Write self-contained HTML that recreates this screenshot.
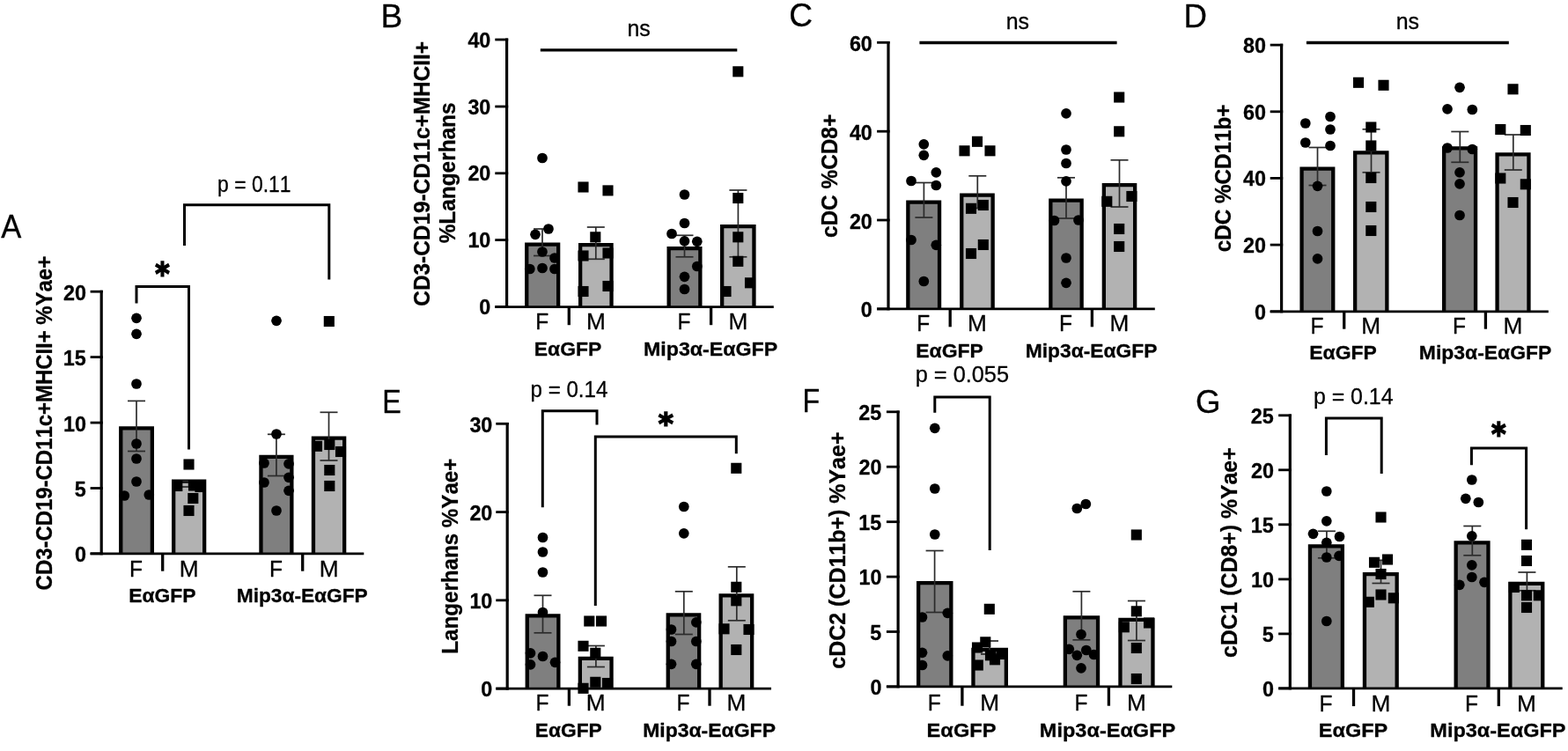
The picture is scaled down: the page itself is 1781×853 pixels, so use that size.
<!DOCTYPE html>
<html lang="en">
<head>
<meta charset="utf-8">
<title>Figure: dendritic cell subsets in EαGFP and Mip3α-EαGFP mice</title>
<style>
html,body{margin:0;padding:0;background:#fff;}
body{width:1781px;height:853px;overflow:hidden;}
svg{display:block;font-family:"Liberation Sans",Arial,Helvetica,sans-serif;fill:#000;font-kerning:none;}
text{stroke:#000;stroke-width:0.3px;stroke-linejoin:round;}
</style>
</head>
<body>
<svg width="1781" height="853" viewBox="0 0 1781 853">
<rect x="0" y="0" width="1781" height="853" fill="#fff"/>
<g>
<path d="M137.25 628.8V486.35H172.85V628.8" fill="#7f7f7f" stroke="#000" stroke-width="4.3" stroke-linejoin="miter"/>
<path d="M197.15 628.8V546.65H232.15V628.8" fill="#b2b2b2" stroke="#000" stroke-width="4.3" stroke-linejoin="miter"/>
<path d="M296.45 628.8V518.95H331.35V628.8" fill="#7f7f7f" stroke="#000" stroke-width="4.3" stroke-linejoin="miter"/>
<path d="M355.95 628.8V497.65H391.15V628.8" fill="#b2b2b2" stroke="#000" stroke-width="4.3" stroke-linejoin="miter"/>
<line x1="155" y1="455.4" x2="155" y2="512.5" stroke="#2b2b2b" stroke-width="1.7" stroke-linecap="butt"/>
<line x1="145" y1="455.4" x2="165" y2="455.4" stroke="#2b2b2b" stroke-width="1.7" stroke-linecap="butt"/>
<line x1="145" y1="512.5" x2="165" y2="512.5" stroke="#2b2b2b" stroke-width="1.7" stroke-linecap="butt"/>
<line x1="214.6" y1="546.5" x2="214.6" y2="553" stroke="#2b2b2b" stroke-width="1.7" stroke-linecap="butt"/>
<line x1="204.6" y1="546.5" x2="224.6" y2="546.5" stroke="#2b2b2b" stroke-width="1.7" stroke-linecap="butt"/>
<line x1="204.6" y1="553" x2="224.6" y2="553" stroke="#2b2b2b" stroke-width="1.7" stroke-linecap="butt"/>
<line x1="313.9" y1="493.3" x2="313.9" y2="540.5" stroke="#2b2b2b" stroke-width="1.7" stroke-linecap="butt"/>
<line x1="303.9" y1="493.3" x2="323.9" y2="493.3" stroke="#2b2b2b" stroke-width="1.7" stroke-linecap="butt"/>
<line x1="303.9" y1="540.5" x2="323.9" y2="540.5" stroke="#2b2b2b" stroke-width="1.7" stroke-linecap="butt"/>
<line x1="373.5" y1="468.3" x2="373.5" y2="523" stroke="#2b2b2b" stroke-width="1.7" stroke-linecap="butt"/>
<line x1="363.5" y1="468.3" x2="383.5" y2="468.3" stroke="#2b2b2b" stroke-width="1.7" stroke-linecap="butt"/>
<line x1="363.5" y1="523" x2="383.5" y2="523" stroke="#2b2b2b" stroke-width="1.7" stroke-linecap="butt"/>
<line x1="115.2" y1="329.8" x2="115.2" y2="630.2" stroke="#000" stroke-width="3.2" stroke-linecap="butt"/>
<line x1="102.6" y1="628.8" x2="413.3" y2="628.8" stroke="#000" stroke-width="2.8" stroke-linecap="butt"/>
<line x1="102.6" y1="331.2" x2="116.8" y2="331.2" stroke="#000" stroke-width="2.8" stroke-linecap="butt"/>
<text transform="translate(72.08 340.85) scale(0.9650 1)" font-size="24.2" font-weight="bold">20</text>
<line x1="102.6" y1="405.6" x2="116.8" y2="405.6" stroke="#000" stroke-width="2.8" stroke-linecap="butt"/>
<text transform="translate(71.77 415.25) scale(0.9650 1)" font-size="24.2" font-weight="bold">15</text>
<line x1="102.6" y1="480.1" x2="116.8" y2="480.1" stroke="#000" stroke-width="2.8" stroke-linecap="butt"/>
<text transform="translate(72.08 489.75) scale(0.9650 1)" font-size="24.2" font-weight="bold">10</text>
<line x1="102.6" y1="554.5" x2="116.8" y2="554.5" stroke="#000" stroke-width="2.8" stroke-linecap="butt"/>
<text transform="translate(84.76 564.15) scale(0.9650 1)" font-size="24.2" font-weight="bold">5</text>
<line x1="102.6" y1="628.8" x2="116.8" y2="628.8" stroke="#000" stroke-width="2.8" stroke-linecap="butt"/>
<text transform="translate(85.07 638.45) scale(0.9650 1)" font-size="24.2" font-weight="bold">0</text>
<line x1="184.7" y1="628.8" x2="184.7" y2="648.7" stroke="#000" stroke-width="3.3" stroke-linecap="butt"/>
<line x1="343.7" y1="628.8" x2="343.7" y2="648.7" stroke="#000" stroke-width="3.3" stroke-linecap="butt"/>
<circle cx="155" cy="361.3" r="5.85"/>
<circle cx="155" cy="379.3" r="5.85"/>
<circle cx="155" cy="436" r="5.85"/>
<circle cx="155" cy="504" r="5.85"/>
<circle cx="155" cy="521" r="5.85"/>
<circle cx="155" cy="547" r="5.85"/>
<circle cx="141.3" cy="563" r="5.85"/>
<circle cx="169.3" cy="562" r="5.85"/>
<rect x="208.45" y="521.45" width="12.1" height="12.1"/>
<rect x="195.25" y="545.95" width="12.1" height="12.1"/>
<rect x="213.95" y="545.45" width="12.1" height="12.1"/>
<rect x="221.45" y="546.95" width="12.1" height="12.1"/>
<rect x="213.25" y="559.95" width="12.1" height="12.1"/>
<rect x="208.45" y="573.95" width="12.1" height="12.1"/>
<circle cx="314" cy="364.3" r="5.85"/>
<circle cx="314" cy="493" r="5.85"/>
<circle cx="300" cy="526" r="5.85"/>
<circle cx="328" cy="526.8" r="5.85"/>
<circle cx="328" cy="542.3" r="5.85"/>
<circle cx="300" cy="548" r="5.85"/>
<circle cx="328" cy="557.3" r="5.85"/>
<circle cx="314" cy="580" r="5.85"/>
<rect x="367.75" y="358.95" width="12.1" height="12.1"/>
<rect x="353.95" y="500.75" width="12.1" height="12.1"/>
<rect x="368.25" y="498.95" width="12.1" height="12.1"/>
<rect x="380.95" y="506.95" width="12.1" height="12.1"/>
<rect x="368.25" y="527.95" width="12.1" height="12.1"/>
<rect x="368.25" y="545.95" width="12.1" height="12.1"/>
<path d="M155 344.5V325.5H214.5V510.5" fill="none" stroke="#000" stroke-width="3" stroke-linejoin="miter"/>
<path d="M209.5 279V232.8H373.8V317.5" fill="none" stroke="#000" stroke-width="3" stroke-linejoin="miter"/>
<text transform="translate(147.05 654.5) scale(0.9800 1)" font-size="25">F</text>
<text transform="translate(203.73 654.5) scale(1.0486 1)" font-size="25">M</text>
<text transform="translate(305.9 654.5) scale(0.9800 1)" font-size="25">F</text>
<text transform="translate(362.63 654.5) scale(1.0486 1)" font-size="25">M</text>
<text transform="translate(146.17 683.7) scale(1.0073 1)" font-size="22.7" font-weight="bold">EαGFP</text>
<text transform="translate(268.78 683.7)" font-size="22.7" font-weight="bold">Mip3α-EαGFP</text>
<text transform="translate(58.57 670.38) rotate(-90) scale(0.9381 1)" font-size="25.5" font-weight="bold">CD3-CD19-CD11c+MHCII+ %Yae+</text>
<text transform="translate(176.27 323.03) scale(0.9048 1)" font-size="34.67" font-weight="bold" font-family='"DejaVu Sans", "Liberation Sans", sans-serif' style="stroke-width:1.6px;stroke-linejoin:miter">*</text>
<text transform="translate(247.12 217.7) scale(0.8944 1)" font-size="25.6">p = 0.11</text>
<text transform="translate(1.13 269.5) scale(0.9245 1)" font-size="37.36">A</text>
</g>
<g>
<path d="M598.25 348.6V277.65H634.15V348.6" fill="#7f7f7f" stroke="#000" stroke-width="4.3" stroke-linejoin="miter"/>
<path d="M659.15 348.6V278.15H694.55V348.6" fill="#b2b2b2" stroke="#000" stroke-width="4.3" stroke-linejoin="miter"/>
<path d="M759.65 348.6V282.15H795.35V348.6" fill="#7f7f7f" stroke="#000" stroke-width="4.3" stroke-linejoin="miter"/>
<path d="M820.15 348.6V257.15H856.45V348.6" fill="#b2b2b2" stroke="#000" stroke-width="4.3" stroke-linejoin="miter"/>
<line x1="616" y1="260" x2="616" y2="290.5" stroke="#2b2b2b" stroke-width="1.7" stroke-linecap="butt"/>
<line x1="606" y1="260" x2="626" y2="260" stroke="#2b2b2b" stroke-width="1.7" stroke-linecap="butt"/>
<line x1="606" y1="290.5" x2="626" y2="290.5" stroke="#2b2b2b" stroke-width="1.7" stroke-linecap="butt"/>
<line x1="676.8" y1="258" x2="676.8" y2="294.3" stroke="#2b2b2b" stroke-width="1.7" stroke-linecap="butt"/>
<line x1="666.8" y1="258" x2="686.8" y2="258" stroke="#2b2b2b" stroke-width="1.7" stroke-linecap="butt"/>
<line x1="666.8" y1="294.3" x2="686.8" y2="294.3" stroke="#2b2b2b" stroke-width="1.7" stroke-linecap="butt"/>
<line x1="777.5" y1="267.3" x2="777.5" y2="291.8" stroke="#2b2b2b" stroke-width="1.7" stroke-linecap="butt"/>
<line x1="767.5" y1="267.3" x2="787.5" y2="267.3" stroke="#2b2b2b" stroke-width="1.7" stroke-linecap="butt"/>
<line x1="767.5" y1="291.8" x2="787.5" y2="291.8" stroke="#2b2b2b" stroke-width="1.7" stroke-linecap="butt"/>
<line x1="838.4" y1="216" x2="838.4" y2="291.8" stroke="#2b2b2b" stroke-width="1.7" stroke-linecap="butt"/>
<line x1="828.4" y1="216" x2="848.4" y2="216" stroke="#2b2b2b" stroke-width="1.7" stroke-linecap="butt"/>
<line x1="828.4" y1="291.8" x2="848.4" y2="291.8" stroke="#2b2b2b" stroke-width="1.7" stroke-linecap="butt"/>
<line x1="575.6" y1="43.6" x2="575.6" y2="350" stroke="#000" stroke-width="3.2" stroke-linecap="butt"/>
<line x1="562.3" y1="348.6" x2="878.8" y2="348.6" stroke="#000" stroke-width="2.8" stroke-linecap="butt"/>
<line x1="562.3" y1="45" x2="577.2" y2="45" stroke="#000" stroke-width="2.8" stroke-linecap="butt"/>
<text transform="translate(531.38 53.55) scale(0.9650 1)" font-size="24.2" font-weight="bold">40</text>
<line x1="562.3" y1="121" x2="577.2" y2="121" stroke="#000" stroke-width="2.8" stroke-linecap="butt"/>
<text transform="translate(531.38 129.55) scale(0.9650 1)" font-size="24.2" font-weight="bold">30</text>
<line x1="562.3" y1="196.8" x2="577.2" y2="196.8" stroke="#000" stroke-width="2.8" stroke-linecap="butt"/>
<text transform="translate(531.38 205.35) scale(0.9650 1)" font-size="24.2" font-weight="bold">20</text>
<line x1="562.3" y1="272.6" x2="577.2" y2="272.6" stroke="#000" stroke-width="2.8" stroke-linecap="butt"/>
<text transform="translate(531.38 281.15) scale(0.9650 1)" font-size="24.2" font-weight="bold">10</text>
<line x1="562.3" y1="348.5" x2="577.2" y2="348.5" stroke="#000" stroke-width="2.8" stroke-linecap="butt"/>
<text transform="translate(544.37 357.05) scale(0.9650 1)" font-size="24.2" font-weight="bold">0</text>
<line x1="646.3" y1="348.6" x2="646.3" y2="369.2" stroke="#000" stroke-width="3.3" stroke-linecap="butt"/>
<line x1="807.6" y1="348.6" x2="807.6" y2="369.2" stroke="#000" stroke-width="3.3" stroke-linecap="butt"/>
<circle cx="616" cy="179.5" r="5.85"/>
<circle cx="623" cy="260" r="5.85"/>
<circle cx="608" cy="266.3" r="5.85"/>
<circle cx="616" cy="286" r="5.85"/>
<circle cx="630" cy="293" r="5.85"/>
<circle cx="601.8" cy="305.5" r="5.85"/>
<circle cx="616" cy="304.5" r="5.85"/>
<circle cx="630" cy="305.5" r="5.85"/>
<rect x="656.45" y="206.45" width="12.1" height="12.1"/>
<rect x="684.45" y="210.35" width="12.1" height="12.1"/>
<rect x="670.25" y="263.25" width="12.1" height="12.1"/>
<rect x="656.45" y="284.45" width="12.1" height="12.1"/>
<rect x="684.45" y="281.45" width="12.1" height="12.1"/>
<rect x="684.45" y="318.95" width="12.1" height="12.1"/>
<rect x="656.45" y="324.95" width="12.1" height="12.1"/>
<circle cx="777.5" cy="221" r="5.85"/>
<circle cx="777.5" cy="253.5" r="5.85"/>
<circle cx="763" cy="265.5" r="5.85"/>
<circle cx="777.5" cy="273.8" r="5.85"/>
<circle cx="791.8" cy="274.3" r="5.85"/>
<circle cx="791.8" cy="302.5" r="5.85"/>
<circle cx="777.5" cy="314.3" r="5.85"/>
<circle cx="777.5" cy="328.5" r="5.85"/>
<rect x="832.25" y="75.25" width="12.1" height="12.1"/>
<rect x="832.25" y="218.95" width="12.1" height="12.1"/>
<rect x="832.25" y="263.25" width="12.1" height="12.1"/>
<rect x="832.25" y="290.75" width="12.1" height="12.1"/>
<rect x="845.95" y="315.25" width="12.1" height="12.1"/>
<rect x="818.45" y="324.95" width="12.1" height="12.1"/>
<line x1="613.8" y1="56.8" x2="837.3" y2="56.8" stroke="#000" stroke-width="3.3" stroke-linecap="butt"/>
<text transform="translate(608.2 374.4) scale(0.9800 1)" font-size="25">F</text>
<text transform="translate(665.93 374.4) scale(1.0486 1)" font-size="25">M</text>
<text transform="translate(769.5 374.4) scale(0.9800 1)" font-size="25">F</text>
<text transform="translate(827.38 374.4) scale(1.0486 1)" font-size="25">M</text>
<text transform="translate(606.76 403.9) scale(1.0114 1)" font-size="22.7" font-weight="bold">EαGFP</text>
<text transform="translate(730.95 403.9) scale(1.0226 1)" font-size="22.7" font-weight="bold">Mip3α-EαGFP</text>
<text transform="translate(487.52 347.7) rotate(-90) scale(0.9564 1)" font-size="25.5" font-weight="bold">CD3-CD19-CD11c+MHCII+</text>
<text transform="translate(517.37 276.31) rotate(-90) scale(0.9563 1)" font-size="25.5" font-weight="bold">%Langerhans</text>
<text transform="translate(712.44 40.6) scale(0.9600 1)" font-size="26">ns</text>
<text transform="translate(432.46 30.7) scale(0.9794 1)" font-size="37.79">B</text>
</g>
<g>
<path d="M1031.35 350.9V229.65H1067.05V350.9" fill="#7f7f7f" stroke="#000" stroke-width="4.3" stroke-linejoin="miter"/>
<path d="M1092.25 350.9V221.65H1127.65V350.9" fill="#b2b2b2" stroke="#000" stroke-width="4.3" stroke-linejoin="miter"/>
<path d="M1193.35 350.9V227.65H1228.65V350.9" fill="#7f7f7f" stroke="#000" stroke-width="4.3" stroke-linejoin="miter"/>
<path d="M1253.85 350.9V210.15H1289.15V350.9" fill="#b2b2b2" stroke="#000" stroke-width="4.3" stroke-linejoin="miter"/>
<line x1="1049.4" y1="207.5" x2="1049.4" y2="247" stroke="#2b2b2b" stroke-width="1.7" stroke-linecap="butt"/>
<line x1="1039.4" y1="207.5" x2="1059.4" y2="207.5" stroke="#2b2b2b" stroke-width="1.7" stroke-linecap="butt"/>
<line x1="1039.4" y1="247" x2="1059.4" y2="247" stroke="#2b2b2b" stroke-width="1.7" stroke-linecap="butt"/>
<line x1="1110.3" y1="199.8" x2="1110.3" y2="236.5" stroke="#2b2b2b" stroke-width="1.7" stroke-linecap="butt"/>
<line x1="1100.3" y1="199.8" x2="1120.3" y2="199.8" stroke="#2b2b2b" stroke-width="1.7" stroke-linecap="butt"/>
<line x1="1100.3" y1="236.5" x2="1120.3" y2="236.5" stroke="#2b2b2b" stroke-width="1.7" stroke-linecap="butt"/>
<line x1="1211" y1="201.8" x2="1211" y2="248" stroke="#2b2b2b" stroke-width="1.7" stroke-linecap="butt"/>
<line x1="1201" y1="201.8" x2="1221" y2="201.8" stroke="#2b2b2b" stroke-width="1.7" stroke-linecap="butt"/>
<line x1="1201" y1="248" x2="1221" y2="248" stroke="#2b2b2b" stroke-width="1.7" stroke-linecap="butt"/>
<line x1="1271.5" y1="181.8" x2="1271.5" y2="235" stroke="#2b2b2b" stroke-width="1.7" stroke-linecap="butt"/>
<line x1="1261.5" y1="181.8" x2="1281.5" y2="181.8" stroke="#2b2b2b" stroke-width="1.7" stroke-linecap="butt"/>
<line x1="1261.5" y1="235" x2="1281.5" y2="235" stroke="#2b2b2b" stroke-width="1.7" stroke-linecap="butt"/>
<line x1="1009" y1="46.9" x2="1009" y2="352.3" stroke="#000" stroke-width="3.2" stroke-linecap="butt"/>
<line x1="996.1" y1="350.9" x2="1311.8" y2="350.9" stroke="#000" stroke-width="2.8" stroke-linecap="butt"/>
<line x1="996.1" y1="48.3" x2="1010.6" y2="48.3" stroke="#000" stroke-width="2.8" stroke-linecap="butt"/>
<text transform="translate(964.88 57.85) scale(0.9650 1)" font-size="24.2" font-weight="bold">60</text>
<line x1="996.1" y1="149.2" x2="1010.6" y2="149.2" stroke="#000" stroke-width="2.8" stroke-linecap="butt"/>
<text transform="translate(964.88 158.75) scale(0.9650 1)" font-size="24.2" font-weight="bold">40</text>
<line x1="996.1" y1="250" x2="1010.6" y2="250" stroke="#000" stroke-width="2.8" stroke-linecap="butt"/>
<text transform="translate(964.88 259.55) scale(0.9650 1)" font-size="24.2" font-weight="bold">20</text>
<line x1="996.1" y1="350.9" x2="1010.6" y2="350.9" stroke="#000" stroke-width="2.8" stroke-linecap="butt"/>
<text transform="translate(977.87 360.45) scale(0.9650 1)" font-size="24.2" font-weight="bold">0</text>
<line x1="1079.2" y1="350.9" x2="1079.2" y2="371.3" stroke="#000" stroke-width="3.3" stroke-linecap="butt"/>
<line x1="1240.4" y1="350.9" x2="1240.4" y2="371.3" stroke="#000" stroke-width="3.3" stroke-linecap="butt"/>
<circle cx="1049.3" cy="163.8" r="5.85"/>
<circle cx="1049.3" cy="176.3" r="5.85"/>
<circle cx="1063.3" cy="195.8" r="5.85"/>
<circle cx="1035" cy="205.5" r="5.85"/>
<circle cx="1063.3" cy="210.5" r="5.85"/>
<circle cx="1035" cy="272.5" r="5.85"/>
<circle cx="1063.3" cy="278.3" r="5.85"/>
<circle cx="1049.3" cy="319.5" r="5.85"/>
<rect x="1103.95" y="154.75" width="12.1" height="12.1"/>
<rect x="1089.45" y="165.25" width="12.1" height="12.1"/>
<rect x="1118.45" y="165.25" width="12.1" height="12.1"/>
<rect x="1096.95" y="230.75" width="12.1" height="12.1"/>
<rect x="1110.75" y="226.95" width="12.1" height="12.1"/>
<rect x="1110.75" y="271.95" width="12.1" height="12.1"/>
<rect x="1096.95" y="281.95" width="12.1" height="12.1"/>
<circle cx="1211" cy="128.8" r="5.85"/>
<circle cx="1211" cy="170" r="5.85"/>
<circle cx="1211" cy="185.5" r="5.85"/>
<circle cx="1211" cy="205.8" r="5.85"/>
<circle cx="1197.5" cy="250.5" r="5.85"/>
<circle cx="1225" cy="250" r="5.85"/>
<circle cx="1211" cy="293" r="5.85"/>
<circle cx="1211" cy="321.3" r="5.85"/>
<rect x="1265.15" y="104.45" width="12.1" height="12.1"/>
<rect x="1265.15" y="143.25" width="12.1" height="12.1"/>
<rect x="1251.25" y="222.75" width="12.1" height="12.1"/>
<rect x="1279.35" y="216.95" width="12.1" height="12.1"/>
<rect x="1265.15" y="253.95" width="12.1" height="12.1"/>
<rect x="1265.15" y="273.95" width="12.1" height="12.1"/>
<line x1="1044.4" y1="48.5" x2="1268.6" y2="48.5" stroke="#000" stroke-width="3.3" stroke-linecap="butt"/>
<text transform="translate(1041.2 375.6) scale(0.9800 1)" font-size="25">F</text>
<text transform="translate(1099.03 375.6) scale(1.0486 1)" font-size="25">M</text>
<text transform="translate(1203 375.6) scale(0.9800 1)" font-size="25">F</text>
<text transform="translate(1260.58 375.6) scale(1.0486 1)" font-size="25">M</text>
<text transform="translate(1040.26 405.6) scale(1.0114 1)" font-size="22.7" font-weight="bold">EαGFP</text>
<text transform="translate(1164.77 405.6) scale(1.0049 1)" font-size="22.7" font-weight="bold">Mip3α-EαGFP</text>
<text transform="translate(950.77 270.05) rotate(-90) scale(0.9561 1)" font-size="25.5" font-weight="bold">cDC %CD8+</text>
<text transform="translate(1142.74 32.9) scale(0.9600 1)" font-size="26">ns</text>
<text transform="translate(896.32 30.44) scale(1.0144 1)" font-size="36.58">C</text>
</g>
<g>
<path d="M1478.55 353.8V191.65H1514.25V353.8" fill="#7f7f7f" stroke="#000" stroke-width="4.3" stroke-linejoin="miter"/>
<path d="M1539.15 353.8V173.45H1575.35V353.8" fill="#b2b2b2" stroke="#000" stroke-width="4.3" stroke-linejoin="miter"/>
<path d="M1640.15 353.8V168.45H1676.05V353.8" fill="#7f7f7f" stroke="#000" stroke-width="4.3" stroke-linejoin="miter"/>
<path d="M1700.55 353.8V175.45H1736.45V353.8" fill="#b2b2b2" stroke="#000" stroke-width="4.3" stroke-linejoin="miter"/>
<line x1="1496.5" y1="167.5" x2="1496.5" y2="210.5" stroke="#2b2b2b" stroke-width="1.7" stroke-linecap="butt"/>
<line x1="1486.5" y1="167.5" x2="1506.5" y2="167.5" stroke="#2b2b2b" stroke-width="1.7" stroke-linecap="butt"/>
<line x1="1486.5" y1="210.5" x2="1506.5" y2="210.5" stroke="#2b2b2b" stroke-width="1.7" stroke-linecap="butt"/>
<line x1="1557.5" y1="146.8" x2="1557.5" y2="195.8" stroke="#2b2b2b" stroke-width="1.7" stroke-linecap="butt"/>
<line x1="1547.5" y1="146.8" x2="1567.5" y2="146.8" stroke="#2b2b2b" stroke-width="1.7" stroke-linecap="butt"/>
<line x1="1547.5" y1="195.8" x2="1567.5" y2="195.8" stroke="#2b2b2b" stroke-width="1.7" stroke-linecap="butt"/>
<line x1="1658.3" y1="149.5" x2="1658.3" y2="184.3" stroke="#2b2b2b" stroke-width="1.7" stroke-linecap="butt"/>
<line x1="1648.3" y1="149.5" x2="1668.3" y2="149.5" stroke="#2b2b2b" stroke-width="1.7" stroke-linecap="butt"/>
<line x1="1648.3" y1="184.3" x2="1668.3" y2="184.3" stroke="#2b2b2b" stroke-width="1.7" stroke-linecap="butt"/>
<line x1="1718.8" y1="153" x2="1718.8" y2="193" stroke="#2b2b2b" stroke-width="1.7" stroke-linecap="butt"/>
<line x1="1708.8" y1="153" x2="1728.8" y2="153" stroke="#2b2b2b" stroke-width="1.7" stroke-linecap="butt"/>
<line x1="1708.8" y1="193" x2="1728.8" y2="193" stroke="#2b2b2b" stroke-width="1.7" stroke-linecap="butt"/>
<line x1="1455.6" y1="49.7" x2="1455.6" y2="355.2" stroke="#000" stroke-width="3.2" stroke-linecap="butt"/>
<line x1="1442.7" y1="353.8" x2="1758.8" y2="353.8" stroke="#000" stroke-width="2.8" stroke-linecap="butt"/>
<line x1="1442.7" y1="51.1" x2="1457.2" y2="51.1" stroke="#000" stroke-width="2.8" stroke-linecap="butt"/>
<text transform="translate(1412.08 59.85) scale(0.9650 1)" font-size="24.2" font-weight="bold">80</text>
<line x1="1442.7" y1="126.8" x2="1457.2" y2="126.8" stroke="#000" stroke-width="2.8" stroke-linecap="butt"/>
<text transform="translate(1412.08 135.55) scale(0.9650 1)" font-size="24.2" font-weight="bold">60</text>
<line x1="1442.7" y1="202.4" x2="1457.2" y2="202.4" stroke="#000" stroke-width="2.8" stroke-linecap="butt"/>
<text transform="translate(1412.08 211.15) scale(0.9650 1)" font-size="24.2" font-weight="bold">40</text>
<line x1="1442.7" y1="278.1" x2="1457.2" y2="278.1" stroke="#000" stroke-width="2.8" stroke-linecap="butt"/>
<text transform="translate(1412.08 286.85) scale(0.9650 1)" font-size="24.2" font-weight="bold">20</text>
<line x1="1442.7" y1="353.8" x2="1457.2" y2="353.8" stroke="#000" stroke-width="2.8" stroke-linecap="butt"/>
<text transform="translate(1425.07 362.55) scale(0.9650 1)" font-size="24.2" font-weight="bold">0</text>
<line x1="1526.7" y1="353.8" x2="1526.7" y2="373.7" stroke="#000" stroke-width="3.3" stroke-linecap="butt"/>
<line x1="1687.4" y1="353.8" x2="1687.4" y2="373.7" stroke="#000" stroke-width="3.3" stroke-linecap="butt"/>
<circle cx="1482.8" cy="140" r="5.85"/>
<circle cx="1511" cy="132.5" r="5.85"/>
<circle cx="1511" cy="147" r="5.85"/>
<circle cx="1482.8" cy="162" r="5.85"/>
<circle cx="1511" cy="165.5" r="5.85"/>
<circle cx="1496.5" cy="211.3" r="5.85"/>
<circle cx="1496.5" cy="262.5" r="5.85"/>
<circle cx="1496.5" cy="293.8" r="5.85"/>
<rect x="1536.95" y="87.75" width="12.1" height="12.1"/>
<rect x="1565.45" y="90.75" width="12.1" height="12.1"/>
<rect x="1551.25" y="138.45" width="12.1" height="12.1"/>
<rect x="1551.25" y="159.45" width="12.1" height="12.1"/>
<rect x="1551.25" y="195.95" width="12.1" height="12.1"/>
<rect x="1551.25" y="228.95" width="12.1" height="12.1"/>
<rect x="1551.25" y="255.95" width="12.1" height="12.1"/>
<circle cx="1658" cy="99.3" r="5.85"/>
<circle cx="1644" cy="123.8" r="5.85"/>
<circle cx="1672.3" cy="124.5" r="5.85"/>
<circle cx="1644" cy="168" r="5.85"/>
<circle cx="1672.3" cy="169.5" r="5.85"/>
<circle cx="1658" cy="195.8" r="5.85"/>
<circle cx="1658" cy="208.8" r="5.85"/>
<circle cx="1658" cy="244.5" r="5.85"/>
<rect x="1712.45" y="95.25" width="12.1" height="12.1"/>
<rect x="1698.25" y="140.95" width="12.1" height="12.1"/>
<rect x="1726.75" y="141.95" width="12.1" height="12.1"/>
<rect x="1698.25" y="196.45" width="12.1" height="12.1"/>
<rect x="1726.75" y="203.25" width="12.1" height="12.1"/>
<rect x="1712.45" y="223.95" width="12.1" height="12.1"/>
<line x1="1483.9" y1="48.5" x2="1713.8" y2="48.5" stroke="#000" stroke-width="3.3" stroke-linecap="butt"/>
<text transform="translate(1488.4 379.2) scale(0.9800 1)" font-size="25">F</text>
<text transform="translate(1546.33 379.2) scale(1.0486 1)" font-size="25">M</text>
<text transform="translate(1650.1 379.2) scale(0.9800 1)" font-size="25">F</text>
<text transform="translate(1707.58 379.2) scale(1.0486 1)" font-size="25">M</text>
<text transform="translate(1487.27 407.8) scale(1.0100 1)" font-size="22.7" font-weight="bold">EαGFP</text>
<text transform="translate(1611.87 407.8) scale(1.0103 1)" font-size="22.7" font-weight="bold">Mip3α-EαGFP</text>
<text transform="translate(1398.27 286.35) rotate(-90) scale(0.9518 1)" font-size="25.5" font-weight="bold">cDC %CD11b+</text>
<text transform="translate(1585.74 32.5) scale(0.9600 1)" font-size="26">ns</text>
<text transform="translate(1344.59 30.6) scale(0.9808 1)" font-size="37.36">D</text>
</g>
<g>
<path d="M598.75 782.1V699.45H634.35V782.1" fill="#7f7f7f" stroke="#000" stroke-width="4.3" stroke-linejoin="miter"/>
<path d="M658.85 782.1V747.95H694.55V782.1" fill="#b2b2b2" stroke="#000" stroke-width="4.3" stroke-linejoin="miter"/>
<path d="M758.75 782.1V698.45H794.15V782.1" fill="#7f7f7f" stroke="#000" stroke-width="4.3" stroke-linejoin="miter"/>
<path d="M818.65 782.1V676.45H854.15V782.1" fill="#b2b2b2" stroke="#000" stroke-width="4.3" stroke-linejoin="miter"/>
<line x1="616.5" y1="676.3" x2="616.5" y2="718.8" stroke="#2b2b2b" stroke-width="1.7" stroke-linecap="butt"/>
<line x1="606.5" y1="676.3" x2="626.5" y2="676.3" stroke="#2b2b2b" stroke-width="1.7" stroke-linecap="butt"/>
<line x1="606.5" y1="718.8" x2="626.5" y2="718.8" stroke="#2b2b2b" stroke-width="1.7" stroke-linecap="butt"/>
<line x1="676.9" y1="733.5" x2="676.9" y2="757.5" stroke="#2b2b2b" stroke-width="1.7" stroke-linecap="butt"/>
<line x1="666.9" y1="733.5" x2="686.9" y2="733.5" stroke="#2b2b2b" stroke-width="1.7" stroke-linecap="butt"/>
<line x1="666.9" y1="757.5" x2="686.9" y2="757.5" stroke="#2b2b2b" stroke-width="1.7" stroke-linecap="butt"/>
<line x1="776.8" y1="671.8" x2="776.8" y2="720.5" stroke="#2b2b2b" stroke-width="1.7" stroke-linecap="butt"/>
<line x1="766.8" y1="671.8" x2="786.8" y2="671.8" stroke="#2b2b2b" stroke-width="1.7" stroke-linecap="butt"/>
<line x1="766.8" y1="720.5" x2="786.8" y2="720.5" stroke="#2b2b2b" stroke-width="1.7" stroke-linecap="butt"/>
<line x1="836.8" y1="643.8" x2="836.8" y2="704.8" stroke="#2b2b2b" stroke-width="1.7" stroke-linecap="butt"/>
<line x1="826.8" y1="643.8" x2="846.8" y2="643.8" stroke="#2b2b2b" stroke-width="1.7" stroke-linecap="butt"/>
<line x1="826.8" y1="704.8" x2="846.8" y2="704.8" stroke="#2b2b2b" stroke-width="1.7" stroke-linecap="butt"/>
<line x1="576.2" y1="479.9" x2="576.2" y2="783.5" stroke="#000" stroke-width="3.2" stroke-linecap="butt"/>
<line x1="563.3" y1="782.1" x2="876" y2="782.1" stroke="#000" stroke-width="2.8" stroke-linecap="butt"/>
<line x1="563.3" y1="481.3" x2="577.8" y2="481.3" stroke="#000" stroke-width="2.8" stroke-linecap="butt"/>
<text transform="translate(533.38 490.65) scale(0.9650 1)" font-size="24.2" font-weight="bold">30</text>
<line x1="563.3" y1="581.6" x2="577.8" y2="581.6" stroke="#000" stroke-width="2.8" stroke-linecap="butt"/>
<text transform="translate(533.38 590.95) scale(0.9650 1)" font-size="24.2" font-weight="bold">20</text>
<line x1="563.3" y1="681.8" x2="577.8" y2="681.8" stroke="#000" stroke-width="2.8" stroke-linecap="butt"/>
<text transform="translate(533.38 691.15) scale(0.9650 1)" font-size="24.2" font-weight="bold">10</text>
<line x1="563.3" y1="782.1" x2="577.8" y2="782.1" stroke="#000" stroke-width="2.8" stroke-linecap="butt"/>
<text transform="translate(546.37 791.45) scale(0.9650 1)" font-size="24.2" font-weight="bold">0</text>
<line x1="646.4" y1="782.1" x2="646.4" y2="801.7" stroke="#000" stroke-width="3.3" stroke-linecap="butt"/>
<line x1="806" y1="782.1" x2="806" y2="801.7" stroke="#000" stroke-width="3.3" stroke-linecap="butt"/>
<circle cx="616.5" cy="610.5" r="5.85"/>
<circle cx="616.5" cy="627" r="5.85"/>
<circle cx="616.5" cy="650" r="5.85"/>
<circle cx="616.5" cy="695.5" r="5.85"/>
<circle cx="602.5" cy="741.8" r="5.85"/>
<circle cx="616.5" cy="745.5" r="5.85"/>
<circle cx="602.5" cy="754.8" r="5.85"/>
<circle cx="630.5" cy="752.3" r="5.85"/>
<rect x="663.25" y="699.45" width="12.1" height="12.1"/>
<rect x="676.95" y="699.45" width="12.1" height="12.1"/>
<rect x="656.45" y="727.75" width="12.1" height="12.1"/>
<rect x="670.25" y="735.75" width="12.1" height="12.1"/>
<rect x="670.25" y="768.75" width="12.1" height="12.1"/>
<rect x="683.95" y="769.95" width="12.1" height="12.1"/>
<rect x="656.45" y="775.75" width="12.1" height="12.1"/>
<circle cx="776.8" cy="575.5" r="5.85"/>
<circle cx="776.8" cy="605.8" r="5.85"/>
<circle cx="790.8" cy="706.8" r="5.85"/>
<circle cx="762.5" cy="715" r="5.85"/>
<circle cx="762.5" cy="728.5" r="5.85"/>
<circle cx="790.8" cy="728.5" r="5.85"/>
<circle cx="762.5" cy="754.3" r="5.85"/>
<circle cx="790.8" cy="754.3" r="5.85"/>
<rect x="830.25" y="525.75" width="12.1" height="12.1"/>
<rect x="830.25" y="660.75" width="12.1" height="12.1"/>
<rect x="830.25" y="676.25" width="12.1" height="12.1"/>
<rect x="816.45" y="708.25" width="12.1" height="12.1"/>
<rect x="844.45" y="708.95" width="12.1" height="12.1"/>
<rect x="830.25" y="731.95" width="12.1" height="12.1"/>
<path d="M616.3 576.3V466.8H678V482.4" fill="none" stroke="#000" stroke-width="3" stroke-linejoin="miter"/>
<path d="M676.3 688V496.1H836.3V515.2" fill="none" stroke="#000" stroke-width="3" stroke-linejoin="miter"/>
<text transform="translate(608.55 807) scale(0.9800 1)" font-size="25">F</text>
<text transform="translate(665.78 807) scale(1.0486 1)" font-size="25">M</text>
<text transform="translate(768.45 807) scale(0.9800 1)" font-size="25">F</text>
<text transform="translate(825.48 807) scale(1.0486 1)" font-size="25">M</text>
<text transform="translate(607.78 837) scale(1.0032 1)" font-size="22.7" font-weight="bold">EαGFP</text>
<text transform="translate(730.16 837) scale(1.0131 1)" font-size="22.7" font-weight="bold">Mip3α-EαGFP</text>
<text transform="translate(519.57 742.72) rotate(-90) scale(0.9473 1)" font-size="25.5" font-weight="bold">Langerhans %Yae+</text>
<text transform="translate(747.64 492.65) scale(0.9616 1)" font-size="34.03" font-weight="bold" font-family='"DejaVu Sans", "Liberation Sans", sans-serif' style="stroke-width:1.6px;stroke-linejoin:miter">*</text>
<text transform="translate(602.55 451) scale(0.9423 1)" font-size="25.6">p = 0.14</text>
<text transform="translate(434.25 469.1) scale(0.8544 1)" font-size="37.79">E</text>
</g>
<g>
<path d="M1043.15 779.9V662.15H1080.35V779.9" fill="#7f7f7f" stroke="#000" stroke-width="4.3" stroke-linejoin="miter"/>
<path d="M1105.45 779.9V737.95H1142.85V779.9" fill="#b2b2b2" stroke="#000" stroke-width="4.3" stroke-linejoin="miter"/>
<path d="M1209.85 779.9V701.45H1247.05V779.9" fill="#7f7f7f" stroke="#000" stroke-width="4.3" stroke-linejoin="miter"/>
<path d="M1272.45 779.9V703.95H1309.45V779.9" fill="#b2b2b2" stroke="#000" stroke-width="4.3" stroke-linejoin="miter"/>
<line x1="1061.6" y1="625.5" x2="1061.6" y2="695.5" stroke="#2b2b2b" stroke-width="1.7" stroke-linecap="butt"/>
<line x1="1051.6" y1="625.5" x2="1071.6" y2="625.5" stroke="#2b2b2b" stroke-width="1.7" stroke-linecap="butt"/>
<line x1="1051.6" y1="695.5" x2="1071.6" y2="695.5" stroke="#2b2b2b" stroke-width="1.7" stroke-linecap="butt"/>
<line x1="1124" y1="728" x2="1124" y2="743" stroke="#2b2b2b" stroke-width="1.7" stroke-linecap="butt"/>
<line x1="1114" y1="728" x2="1134" y2="728" stroke="#2b2b2b" stroke-width="1.7" stroke-linecap="butt"/>
<line x1="1114" y1="743" x2="1134" y2="743" stroke="#2b2b2b" stroke-width="1.7" stroke-linecap="butt"/>
<line x1="1228.4" y1="671.8" x2="1228.4" y2="726.8" stroke="#2b2b2b" stroke-width="1.7" stroke-linecap="butt"/>
<line x1="1218.4" y1="671.8" x2="1238.4" y2="671.8" stroke="#2b2b2b" stroke-width="1.7" stroke-linecap="butt"/>
<line x1="1218.4" y1="726.8" x2="1238.4" y2="726.8" stroke="#2b2b2b" stroke-width="1.7" stroke-linecap="butt"/>
<line x1="1290.9" y1="682.5" x2="1290.9" y2="727.5" stroke="#2b2b2b" stroke-width="1.7" stroke-linecap="butt"/>
<line x1="1280.9" y1="682.5" x2="1300.9" y2="682.5" stroke="#2b2b2b" stroke-width="1.7" stroke-linecap="butt"/>
<line x1="1280.9" y1="727.5" x2="1300.9" y2="727.5" stroke="#2b2b2b" stroke-width="1.7" stroke-linecap="butt"/>
<line x1="1020.1" y1="466.4" x2="1020.1" y2="781.3" stroke="#000" stroke-width="3.2" stroke-linecap="butt"/>
<line x1="1006.9" y1="779.9" x2="1331.3" y2="779.9" stroke="#000" stroke-width="2.8" stroke-linecap="butt"/>
<line x1="1006.9" y1="467.8" x2="1021.7" y2="467.8" stroke="#000" stroke-width="2.8" stroke-linecap="butt"/>
<text transform="translate(975.17 477.05) scale(0.9650 1)" font-size="24.2" font-weight="bold">25</text>
<line x1="1006.9" y1="530.2" x2="1021.7" y2="530.2" stroke="#000" stroke-width="2.8" stroke-linecap="butt"/>
<text transform="translate(975.48 539.45) scale(0.9650 1)" font-size="24.2" font-weight="bold">20</text>
<line x1="1006.9" y1="592.7" x2="1021.7" y2="592.7" stroke="#000" stroke-width="2.8" stroke-linecap="butt"/>
<text transform="translate(975.17 601.95) scale(0.9650 1)" font-size="24.2" font-weight="bold">15</text>
<line x1="1006.9" y1="655.1" x2="1021.7" y2="655.1" stroke="#000" stroke-width="2.8" stroke-linecap="butt"/>
<text transform="translate(975.48 664.35) scale(0.9650 1)" font-size="24.2" font-weight="bold">10</text>
<line x1="1006.9" y1="717.5" x2="1021.7" y2="717.5" stroke="#000" stroke-width="2.8" stroke-linecap="butt"/>
<text transform="translate(988.16 726.75) scale(0.9650 1)" font-size="24.2" font-weight="bold">5</text>
<line x1="1006.9" y1="779.9" x2="1021.7" y2="779.9" stroke="#000" stroke-width="2.8" stroke-linecap="butt"/>
<text transform="translate(988.47 789.15) scale(0.9650 1)" font-size="24.2" font-weight="bold">0</text>
<line x1="1092.9" y1="779.9" x2="1092.9" y2="801.7" stroke="#000" stroke-width="3.3" stroke-linecap="butt"/>
<line x1="1259.4" y1="779.9" x2="1259.4" y2="801.7" stroke="#000" stroke-width="3.3" stroke-linecap="butt"/>
<circle cx="1061.8" cy="486.3" r="5.85"/>
<circle cx="1061.8" cy="555" r="5.85"/>
<circle cx="1061.8" cy="607" r="5.85"/>
<circle cx="1047.5" cy="701" r="5.85"/>
<circle cx="1076.3" cy="696.3" r="5.85"/>
<circle cx="1047.5" cy="741.3" r="5.85"/>
<circle cx="1076.3" cy="744.8" r="5.85"/>
<circle cx="1047.5" cy="755.5" r="5.85"/>
<rect x="1117.75" y="685.75" width="12.1" height="12.1"/>
<rect x="1113.25" y="723.25" width="12.1" height="12.1"/>
<rect x="1103.95" y="729.45" width="12.1" height="12.1"/>
<rect x="1131.45" y="736.95" width="12.1" height="12.1"/>
<rect x="1118.95" y="738.25" width="12.1" height="12.1"/>
<rect x="1123.95" y="743.25" width="12.1" height="12.1"/>
<rect x="1104.75" y="749.45" width="12.1" height="12.1"/>
<circle cx="1223.3" cy="577.5" r="5.85"/>
<circle cx="1233.3" cy="572.5" r="5.85"/>
<circle cx="1228" cy="720.5" r="5.85"/>
<circle cx="1214.3" cy="737.3" r="5.85"/>
<circle cx="1233.8" cy="738.5" r="5.85"/>
<circle cx="1223.3" cy="744.3" r="5.85"/>
<circle cx="1242.5" cy="743.5" r="5.85"/>
<circle cx="1228" cy="758.8" r="5.85"/>
<rect x="1284.75" y="601.45" width="12.1" height="12.1"/>
<rect x="1284.75" y="688.25" width="12.1" height="12.1"/>
<rect x="1298.95" y="701.45" width="12.1" height="12.1"/>
<rect x="1270.75" y="706.25" width="12.1" height="12.1"/>
<rect x="1284.75" y="729.95" width="12.1" height="12.1"/>
<rect x="1284.75" y="764.95" width="12.1" height="12.1"/>
<path d="M1061.8 468.8V450.9H1124.2V625" fill="none" stroke="#000" stroke-width="3" stroke-linejoin="miter"/>
<text transform="translate(1053.75 807) scale(0.9800 1)" font-size="25">F</text>
<text transform="translate(1113.23 807) scale(1.0486 1)" font-size="25">M</text>
<text transform="translate(1220.45 807) scale(0.9800 1)" font-size="25">F</text>
<text transform="translate(1280.03 807) scale(1.0486 1)" font-size="25">M</text>
<text transform="translate(1052.62 837.3) scale(1.0413 1)" font-size="22.7" font-weight="bold">EαGFP</text>
<text transform="translate(1180.83 837.3) scale(1.0369 1)" font-size="22.7" font-weight="bold">Mip3α-EαGFP</text>
<text transform="translate(959.62 759.68) rotate(-90) scale(0.9425 1)" font-size="26.5" font-weight="bold">cDC2 (CD11b+) %Yae+</text>
<text transform="translate(1039.67 433.9) scale(0.9528 1)" font-size="26.6">p = 0.055</text>
<text transform="translate(911.45 467.7) scale(0.8554 1)" font-size="37.79">F</text>
</g>
<g>
<path d="M1487.95 781.9V620.45H1524.85V781.9" fill="#7f7f7f" stroke="#000" stroke-width="4.3" stroke-linejoin="miter"/>
<path d="M1549.95 781.9V652.15H1586.65V781.9" fill="#b2b2b2" stroke="#000" stroke-width="4.3" stroke-linejoin="miter"/>
<path d="M1653.65 781.9V616.45H1690.45V781.9" fill="#7f7f7f" stroke="#000" stroke-width="4.3" stroke-linejoin="miter"/>
<path d="M1715.35 781.9V662.95H1752.25V781.9" fill="#b2b2b2" stroke="#000" stroke-width="4.3" stroke-linejoin="miter"/>
<line x1="1506.9" y1="603.3" x2="1506.9" y2="633.8" stroke="#2b2b2b" stroke-width="1.7" stroke-linecap="butt"/>
<line x1="1496.9" y1="603.3" x2="1516.9" y2="603.3" stroke="#2b2b2b" stroke-width="1.7" stroke-linecap="butt"/>
<line x1="1496.9" y1="633.8" x2="1516.9" y2="633.8" stroke="#2b2b2b" stroke-width="1.7" stroke-linecap="butt"/>
<line x1="1568.5" y1="636.3" x2="1568.5" y2="662.5" stroke="#2b2b2b" stroke-width="1.7" stroke-linecap="butt"/>
<line x1="1558.5" y1="636.3" x2="1578.5" y2="636.3" stroke="#2b2b2b" stroke-width="1.7" stroke-linecap="butt"/>
<line x1="1558.5" y1="662.5" x2="1578.5" y2="662.5" stroke="#2b2b2b" stroke-width="1.7" stroke-linecap="butt"/>
<line x1="1672.3" y1="597.5" x2="1672.3" y2="630.8" stroke="#2b2b2b" stroke-width="1.7" stroke-linecap="butt"/>
<line x1="1662.3" y1="597.5" x2="1682.3" y2="597.5" stroke="#2b2b2b" stroke-width="1.7" stroke-linecap="butt"/>
<line x1="1662.3" y1="630.8" x2="1682.3" y2="630.8" stroke="#2b2b2b" stroke-width="1.7" stroke-linecap="butt"/>
<line x1="1734.4" y1="650" x2="1734.4" y2="670.8" stroke="#2b2b2b" stroke-width="1.7" stroke-linecap="butt"/>
<line x1="1724.4" y1="650" x2="1744.4" y2="650" stroke="#2b2b2b" stroke-width="1.7" stroke-linecap="butt"/>
<line x1="1724.4" y1="670.8" x2="1744.4" y2="670.8" stroke="#2b2b2b" stroke-width="1.7" stroke-linecap="butt"/>
<line x1="1465.3" y1="470.4" x2="1465.3" y2="783.3" stroke="#000" stroke-width="3.2" stroke-linecap="butt"/>
<line x1="1452.1" y1="781.9" x2="1774.7" y2="781.9" stroke="#000" stroke-width="2.8" stroke-linecap="butt"/>
<line x1="1452.1" y1="471.8" x2="1466.9" y2="471.8" stroke="#000" stroke-width="2.8" stroke-linecap="butt"/>
<text transform="translate(1420.67 481.25) scale(0.9650 1)" font-size="24.2" font-weight="bold">25</text>
<line x1="1452.1" y1="533.8" x2="1466.9" y2="533.8" stroke="#000" stroke-width="2.8" stroke-linecap="butt"/>
<text transform="translate(1420.98 543.25) scale(0.9650 1)" font-size="24.2" font-weight="bold">20</text>
<line x1="1452.1" y1="595.8" x2="1466.9" y2="595.8" stroke="#000" stroke-width="2.8" stroke-linecap="butt"/>
<text transform="translate(1420.67 605.25) scale(0.9650 1)" font-size="24.2" font-weight="bold">15</text>
<line x1="1452.1" y1="657.9" x2="1466.9" y2="657.9" stroke="#000" stroke-width="2.8" stroke-linecap="butt"/>
<text transform="translate(1420.98 667.35) scale(0.9650 1)" font-size="24.2" font-weight="bold">10</text>
<line x1="1452.1" y1="719.9" x2="1466.9" y2="719.9" stroke="#000" stroke-width="2.8" stroke-linecap="butt"/>
<text transform="translate(1433.66 729.35) scale(0.9650 1)" font-size="24.2" font-weight="bold">5</text>
<line x1="1452.1" y1="781.9" x2="1466.9" y2="781.9" stroke="#000" stroke-width="2.8" stroke-linecap="butt"/>
<text transform="translate(1433.97 791.35) scale(0.9650 1)" font-size="24.2" font-weight="bold">0</text>
<line x1="1537.5" y1="781.9" x2="1537.5" y2="802.1" stroke="#000" stroke-width="3.3" stroke-linecap="butt"/>
<line x1="1702.3" y1="781.9" x2="1702.3" y2="802.1" stroke="#000" stroke-width="3.3" stroke-linecap="butt"/>
<circle cx="1506.8" cy="558" r="5.85"/>
<circle cx="1506.8" cy="591.8" r="5.85"/>
<circle cx="1491.5" cy="606.3" r="5.85"/>
<circle cx="1521.5" cy="609.5" r="5.85"/>
<circle cx="1506.8" cy="616.3" r="5.85"/>
<circle cx="1506.8" cy="633" r="5.85"/>
<circle cx="1521" cy="631.3" r="5.85"/>
<circle cx="1506.8" cy="705.5" r="5.85"/>
<rect x="1562.45" y="581.45" width="12.1" height="12.1"/>
<rect x="1569.95" y="629.45" width="12.1" height="12.1"/>
<rect x="1554.95" y="632.75" width="12.1" height="12.1"/>
<rect x="1562.45" y="645.95" width="12.1" height="12.1"/>
<rect x="1562.45" y="669.45" width="12.1" height="12.1"/>
<rect x="1576.75" y="673.25" width="12.1" height="12.1"/>
<rect x="1548.75" y="677.75" width="12.1" height="12.1"/>
<circle cx="1671.8" cy="545" r="5.85"/>
<circle cx="1664.8" cy="566.3" r="5.85"/>
<circle cx="1679.3" cy="570.5" r="5.85"/>
<circle cx="1671.8" cy="608.8" r="5.85"/>
<circle cx="1671.8" cy="641.8" r="5.85"/>
<circle cx="1671.8" cy="655.5" r="5.85"/>
<circle cx="1657.8" cy="664.3" r="5.85"/>
<circle cx="1686" cy="661.3" r="5.85"/>
<rect x="1727.95" y="612.75" width="12.1" height="12.1"/>
<rect x="1727.95" y="630.95" width="12.1" height="12.1"/>
<rect x="1713.75" y="660.95" width="12.1" height="12.1"/>
<rect x="1741.75" y="670.25" width="12.1" height="12.1"/>
<rect x="1727.95" y="670.25" width="12.1" height="12.1"/>
<rect x="1727.95" y="683.95" width="12.1" height="12.1"/>
<path d="M1506.4 517V475H1569.2V538" fill="none" stroke="#000" stroke-width="3" stroke-linejoin="miter"/>
<path d="M1671.4 528.3V509H1733.6V601.3" fill="none" stroke="#000" stroke-width="3" stroke-linejoin="miter"/>
<text transform="translate(1498.4 807.7) scale(0.9800 1)" font-size="25">F</text>
<text transform="translate(1557.38 807.7) scale(1.0486 1)" font-size="25">M</text>
<text transform="translate(1664.05 807.7) scale(0.9800 1)" font-size="25">F</text>
<text transform="translate(1722.88 807.7) scale(1.0486 1)" font-size="25">M</text>
<text transform="translate(1497.83 837.3) scale(1.0359 1)" font-size="22.7" font-weight="bold">EαGFP</text>
<text transform="translate(1624.33 837.3) scale(1.0355 1)" font-size="22.7" font-weight="bold">Mip3α-EαGFP</text>
<text transform="translate(1405.32 747.07) rotate(-90) scale(0.9371 1)" font-size="26.5" font-weight="bold">cDC1 (CD8+) %Yae+</text>
<text transform="translate(1694.07 504.99) scale(0.9082 1)" font-size="34.89" font-weight="bold" font-family='"DejaVu Sans", "Liberation Sans", sans-serif' style="stroke-width:1.6px;stroke-linejoin:miter">*</text>
<text transform="translate(1491.9 459) scale(0.9498 1)" font-size="26.2">p = 0.14</text>
<text transform="translate(1358.06 469.24) scale(0.9969 1)" font-size="36.72">G</text>
</g>
</svg>
</body>
</html>
